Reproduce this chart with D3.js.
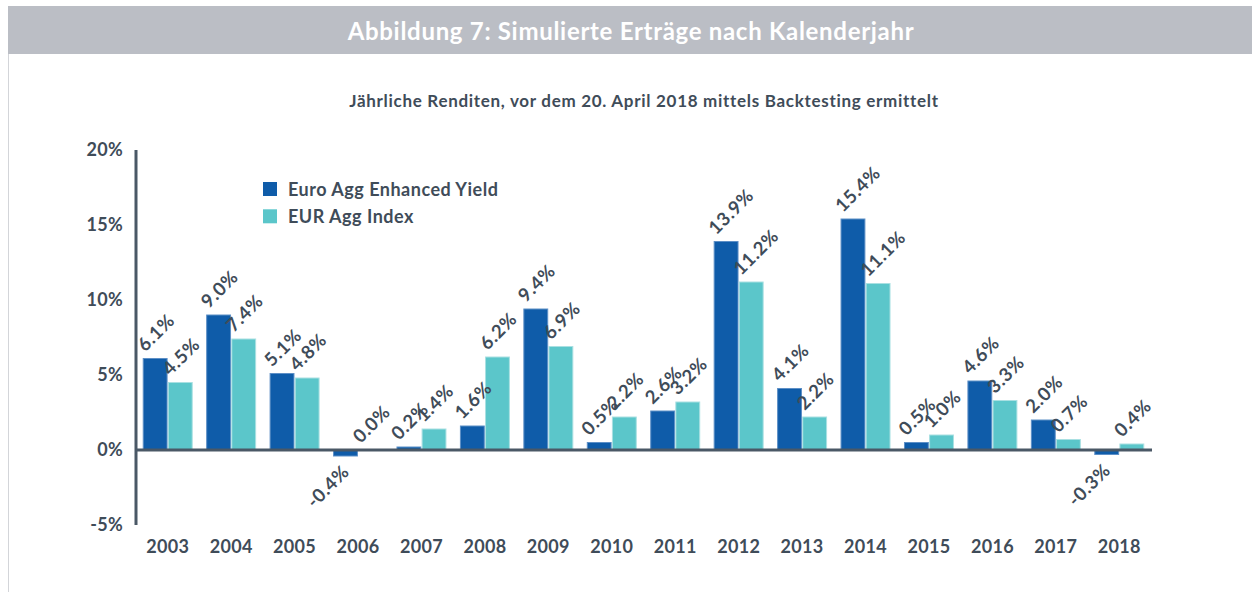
<!DOCTYPE html>
<html>
<head>
<meta charset="utf-8">
<script src="https://cdn.jsdelivr.net/npm/d3@7"></script>
<style>
  body { margin: 0; background: #fff; }
  text { font-family: Lato, "Open Sans", sans-serif; font-weight: 700; }
</style>
</head>
<body>
<div id="chart"></div>
<script>
// chart data
const years = ["2003", "2004", "2005", "2006", "2007", "2008", "2009", "2010",
  "2011", "2012", "2013", "2014", "2015", "2016", "2017", "2018"];
const enhancedYield = [6.1, 9.0, 5.1, -0.4, 0.2, 1.6, 9.4, 0.5, 2.6, 13.9, 4.1, 15.4, 0.5, 4.6, 2.0, -0.3];
const aggIndex = [4.5, 7.4, 4.8, 0.0, 1.4, 6.2, 6.9, 2.2, 3.2, 11.2, 2.2, 11.1, 1.0, 3.3, 0.7, 0.4];
const seriesNames = ["Euro Agg Enhanced Yield", "EUR Agg Index"];
const yTicks = [-5, 0, 5, 10, 15, 20];

const W = 1252, H = 595;
const dark = "#0f5ca9", light = "#5bc6ca", ink = "#3f4c59";

const svg = d3.select("#chart").append("svg")
  .attr("width", W).attr("height", H);

// header band
svg.append("rect").attr("x", 8).attr("y", 6).attr("width", W - 8).attr("height", 48)
  .attr("fill", "#bbbec5");
svg.append("line").attr("x1", 8.5).attr("x2", 8.5).attr("y1", 54).attr("y2", 592)
  .attr("stroke", "#d3d5d9").attr("stroke-width", 1);

svg.append("text")
  .attr("x", 631).attr("y", 40)
  .attr("text-anchor", "middle")
  .attr("fill", "#fff")
  .style("font-size", "24px")
  .style("letter-spacing", "0.7px")
  .text("Abbildung 7: Simulierte Erträge nach Kalenderjahr");

svg.append("text")
  .attr("x", 644).attr("y", 107)
  .attr("text-anchor", "middle")
  .attr("fill", ink)
  .style("font-size", "17px")
  .style("letter-spacing", "0.7px")
  .text("Jährliche Renditen, vor dem 20. April 2018 mittels Backtesting ermittelt");

// scales
const x = d3.scaleBand().domain(years).range([136, 1151]).paddingInner(0.228).paddingOuter(0.114);
const sub = d3.scaleBand().domain([0, 1]).range([0, x.bandwidth()]).paddingInner(0.05);
const y = d3.scaleLinear().domain([-5, 20]).range([525, 150]);

// y tick labels
svg.append("g").selectAll("text").data(yTicks).join("text")
  .attr("x", 123).attr("y", d => y(d) + 6)
  .attr("text-anchor", "end")
  .attr("fill", ink)
  .style("font-size", "18px")
  .style("letter-spacing", "0.3px")
  .text(d => d + "%");

// bars
const groups = svg.append("g").selectAll("g").data(years).join("g")
  .attr("transform", d => `translate(${x(d)},0)`);

const rows = years.map((yr, i) => [enhancedYield[i], aggIndex[i]]);

groups.selectAll("rect").data((d, i) => rows[i].map((v, k) => ({ v, k }))).join("rect")
  .attr("x", d => sub(d.k))
  .attr("width", sub.bandwidth())
  .attr("y", d => y(Math.max(0, d.v)))
  .attr("height", d => Math.abs(y(d.v) - y(0)))
  .attr("fill", d => d.k === 0 ? dark : light)
  .attr("stroke", d => d.k === 0 ? "#5d8fc6" : "#a9e0e2")
  .attr("stroke-width", 1);

// value labels
groups.selectAll("text").data((d, i) => rows[i].map((v, k) => ({ v, k }))).join("text")
  .attr("transform", d => {
    if (d.v < 0) {
      return `translate(${sub(d.k) + sub.bandwidth() - 7},${y(d.v) + 17}) rotate(-45)`;
    }
    return `translate(${sub(d.k) + 2},${y(d.v) - 6}) rotate(-45)`;
  })
  .attr("text-anchor", d => d.v < 0 ? "end" : "start")
  .attr("fill", ink)
  .style("font-size", "18.5px")
  .style("letter-spacing", "0.6px")
  .text(d => d.v.toFixed(1) + "%");

// axes lines
svg.append("line")
  .attr("x1", 136).attr("x2", 136).attr("y1", y(20)).attr("y2", y(-5))
  .attr("stroke", "#4a5866").attr("stroke-width", 3);
svg.append("line")
  .attr("x1", 136).attr("x2", 1152).attr("y1", y(0)).attr("y2", y(0))
  .attr("stroke", "#4a5866").attr("stroke-width", 3);

// year labels
svg.append("g").selectAll("text").data(years).join("text")
  .attr("x", d => x(d) + x.bandwidth() / 2)
  .attr("y", 553)
  .attr("text-anchor", "middle")
  .attr("fill", ink)
  .style("font-size", "18px")
  .style("letter-spacing", "0.3px")
  .text(d => d);

// legend
const legend = svg.append("g").attr("transform", "translate(263,182)");
legend.selectAll("rect").data(seriesNames).join("rect")
  .attr("x", 0).attr("y", (d, i) => i * 27.3)
  .attr("width", 14).attr("height", 14)
  .attr("fill", (d, i) => i === 0 ? dark : light);
legend.selectAll("text").data(seriesNames).join("text")
  .attr("x", 25).attr("y", (d, i) => i * 27.3 + 13.5)
  .attr("fill", ink)
  .style("font-size", "18px")
  .style("letter-spacing", "0.5px")
  .text(d => d);
</script>
</body>
</html>
